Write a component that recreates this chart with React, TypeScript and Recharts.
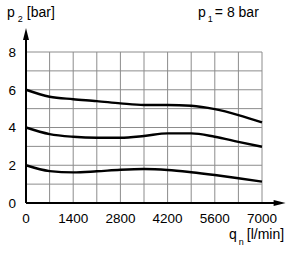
import { LineChart, Line, XAxis, YAxis, ReferenceLine, Customized } from 'recharts';

// flow rate qn [l/min], one point per grid column
const flow = [0, 700, 1400, 2100, 2800, 3500, 4200, 4900, 5600, 6300, 7000];
// outlet pressure p2 [bar] for three regulator settings (p1 = 8 bar)
const p2At6 = [6.0, 5.63, 5.5, 5.4, 5.28, 5.19, 5.19, 5.15, 4.97, 4.66, 4.27];
const p2At4 = [4.0, 3.65, 3.51, 3.46, 3.46, 3.55, 3.69, 3.69, 3.51, 3.24, 2.98];
const p2At2 = [2.0, 1.69, 1.62, 1.68, 1.76, 1.8, 1.75, 1.63, 1.48, 1.31, 1.13];

const xTicks = [0, 1400, 2800, 4200, 5600, 7000];
const yTicks = [0, 2, 4, 6, 8];
const xGrid = [700, 1400, 2100, 2800, 3500, 4200, 4900, 5600, 6300, 7000];
const yGrid = [1, 2, 3, 4, 5, 6, 7, 8];

const data = flow.map((q, i) => ({ q, a: p2At6[i], b: p2At4[i], c: p2At2[i] }));

const FONT = '"Liberation Sans", Arial, sans-serif';
const GRID = '#8c8c8c';

// axis line with an arrow head at the far end
function Arrow(props: any) {
    const { x1, y1, x2, y2 } = props;
    const vertical = Math.abs(x1 - x2) < 1;
    const head = vertical
        ? `${x2},${y2} ${x2 - 3},${y2 + 12} ${x2 + 3},${y2 + 12}`
        : `${x2},${y2} ${x2 - 12},${y2 - 3} ${x2 - 12},${y2 + 3}`;
    return (
        <g>
            <line x1={x1} y1={y1} x2={vertical ? x2 : x2 - 6} y2={vertical ? y2 + 6 : y2} stroke="#000" strokeWidth={2} />
            <polygon points={head} fill="#000" />
        </g>
    );
}

function Labels() {
    return (
        <g fontFamily={FONT} fill="#000">
            <text x={7} y={17} fontSize={14}>p<tspan fontSize={9} dx={3} dy={5}>2</tspan><tspan dx={4} dy={-5}>[bar]</tspan></text>
            <text x={198} y={17} fontSize={14}>p<tspan fontSize={9} dx={2} dy={5}>1</tspan><tspan dx={2} dy={-5}>= 8 bar</tspan></text>
            <text x={229} y={239} fontSize={14}>q<tspan fontSize={9} dx={2} dy={6}>n</tspan><tspan dx={3} dy={-6}>[l/min]</tspan></text>
        </g>
    );
}

export default function App() {
    return (
        <div style={{ position: 'absolute', left: 0, top: 0, width: 300, height: 256, background: '#fff' }}>
            <LineChart width={300} height={256} data={data} margin={{ top: 52, right: 38, left: 0, bottom: 23 }}>
                <XAxis
                    dataKey="q"
                    type="number"
                    domain={[0, 7000]}
                    ticks={xTicks}
                    axisLine={false}
                    tickLine={false}
                    tickSize={0}
                    tickMargin={10}
                    height={30}
                    tick={{ fontSize: 13.5, fill: '#000', fontFamily: FONT }}
                />
                <YAxis
                    type="number"
                    domain={[0, 8]}
                    ticks={yTicks}
                    axisLine={false}
                    tickLine={false}
                    tickSize={0}
                    tickMargin={10}
                    width={26}
                    tick={{ fontSize: 13.5, fill: '#000', fontFamily: FONT }}
                />
                {xGrid.map((v) => (
                    <ReferenceLine key={`gx-${v}`} x={v} stroke={GRID} strokeWidth={1} />
                ))}
                {yGrid.map((v) => (
                    <ReferenceLine key={`gy-${v}`} y={v} stroke={GRID} strokeWidth={1} />
                ))}
                <ReferenceLine segment={[{ x: 0, y: 0 }, { x: 0, y: 9.27 }]} ifOverflow="visible" shape={Arrow} />
                <ReferenceLine segment={[{ x: 0, y: 0 }, { x: 7700, y: 0 }]} ifOverflow="visible" shape={Arrow} />
                <Line type="monotone" dataKey="a" stroke="#000" strokeWidth={2.4} dot={false} isAnimationActive={false} />
                <Line type="monotone" dataKey="b" stroke="#000" strokeWidth={2.4} dot={false} isAnimationActive={false} />
                <Line type="monotone" dataKey="c" stroke="#000" strokeWidth={2.4} dot={false} isAnimationActive={false} />
                <Customized component={Labels} />
            </LineChart>
        </div>
    );
}
